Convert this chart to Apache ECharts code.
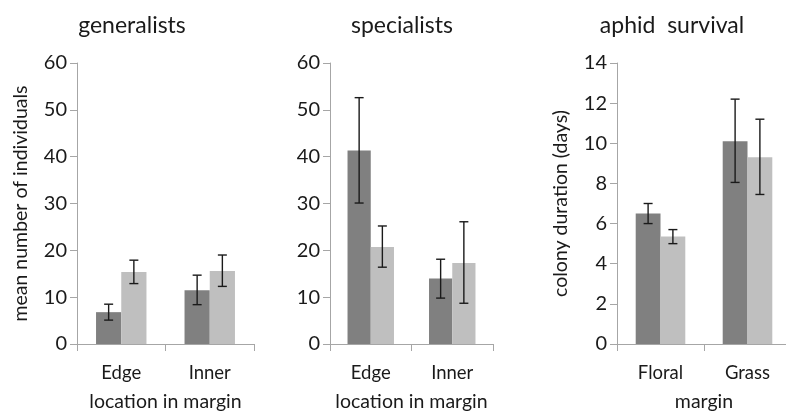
<!DOCTYPE html>
<html><head><meta charset="utf-8">
<script src="https://cdn.jsdelivr.net/npm/echarts@6/dist/echarts.min.js"></script>
<style>html,body{margin:0;padding:0;background:#fff}#c{width:786px;height:412px}</style>
</head><body><div id="c"></div>
<script>
// ---- data ----
var titles = ['generalists', 'specialists', 'aphid  survival'];
var catsLocation = ['Edge', 'Inner'];
var catsMargin = ['Floral', 'Grass'];
var yNames = ['mean number of individuals', '', 'colony duration (days)'];
var xNames = ['location in margin', 'location in margin', 'margin'];
var yMax = [60, 60, 14];
var yInterval = [10, 10, 2];

var genDark = [6.8, 11.5];
var genDarkLo = [5.1, 8.4];
var genDarkHi = [8.5, 14.7];
var genLight = [15.4, 15.6];
var genLightLo = [12.9, 12.3];
var genLightHi = [17.9, 19.0];

var speDark = [41.3, 14.0];
var speDarkLo = [30.1, 9.8];
var speDarkHi = [52.6, 18.1];
var speLight = [20.7, 17.3];
var speLightLo = [16.4, 8.7];
var speLightHi = [25.2, 26.1];

var aphDark = [6.5, 10.1];
var aphDarkLo = [6.0, 8.05];
var aphDarkHi = [7.0, 12.2];
var aphLight = [5.35, 9.3];
var aphLightLo = [5.0, 7.45];
var aphLightHi = [5.7, 11.2];

// ---- chart ----
var FONT = 'Lato';
var TXT = '#1a1a1a';
var DARK = '#808080', LIGHT = '#bfbfbf';
var GAP = 0.43;
var grids = [
  {left: 77, top: 63, width: 177, height: 281, outerBoundsMode: 'none', containLabel: false},
  {left: 330, top: 63, width: 163, height: 281, outerBoundsMode: 'none', containLabel: false},
  {left: 617, top: 63, width: 174, height: 281, outerBoundsMode: 'none', containLabel: false}
];
var cats = [catsLocation, catsLocation, catsMargin];
var panels = [
  [genDark, genDarkLo, genDarkHi, genLight, genLightLo, genLightHi],
  [speDark, speDarkLo, speDarkHi, speLight, speLightLo, speLightHi],
  [aphDark, aphDarkLo, aphDarkHi, aphLight, aphLightLo, aphLightHi]
];
var titleX = [127, 397, 667];

function errSeries(i, lo, hi, side) {
  var data = lo.map(function (v, k) { return [k, v, hi[k]]; });
  return {
    type: 'custom', xAxisIndex: i, yAxisIndex: i, z: 10,
    renderItem: function (params, api) {
      var band = api.size([1, 0])[0];
      var bw = band * (1 - GAP) / 2;
      var p0 = api.coord([api.value(0), api.value(1)]);
      var p1 = api.coord([api.value(0), api.value(2)]);
      var x = p0[0] + side * bw / 2;
      var c = 4.5;
      var st = {stroke: '#1a1a1a', lineWidth: 1.4};
      return {type: 'group', children: [
        {type: 'line', shape: {x1: x, y1: p0[1], x2: x, y2: p1[1]}, style: st},
        {type: 'line', shape: {x1: x - c, y1: p0[1], x2: x + c, y2: p0[1]}, style: st},
        {type: 'line', shape: {x1: x - c, y1: p1[1], x2: x + c, y2: p1[1]}, style: st}
      ]};
    },
    data: data
  };
}

var xAxis = [], yAxis = [], series = [], title = [];
for (var i = 0; i < 3; i++) {
  title.push({text: titles[i], left: titleX[i], top: 9, textAlign: 'center',
    textStyle: {fontFamily: FONT, fontSize: 23, fontWeight: 'normal', color: TXT}});
  xAxis.push({type: 'category', gridIndex: i, data: cats[i],
    name: xNames[i], nameLocation: 'middle', nameGap: 48,
    nameTextStyle: {fontFamily: FONT, fontSize: 19.5, color: TXT},
    axisLine: {lineStyle: {color: '#a6a6a6', width: 1}},
    axisTick: {show: true, length: 7, lineStyle: {color: '#a6a6a6'}},
    axisLabel: {fontFamily: FONT, fontSize: 18.5, color: TXT, margin: 20}});
  yAxis.push({type: 'value', gridIndex: i, min: 0, max: yMax[i], interval: yInterval[i],
    name: yNames[i], nameLocation: 'middle', nameGap: 46,
    nameTextStyle: {fontFamily: FONT, fontSize: 19.5, color: TXT},
    splitLine: {show: false},
    axisLine: {show: true, lineStyle: {color: '#a6a6a6', width: 1}},
    axisTick: {show: true, length: 7, lineStyle: {color: '#a6a6a6'}},
    axisLabel: {fontFamily: FONT, fontSize: 20, color: TXT, margin: 10}});
  var p = panels[i];
  series.push({type: 'bar', xAxisIndex: i, yAxisIndex: i, data: p[0],
    itemStyle: {color: DARK}, barGap: '0%', barCategoryGap: (GAP * 100) + '%'});
  series.push({type: 'bar', xAxisIndex: i, yAxisIndex: i, data: p[3],
    itemStyle: {color: LIGHT}, barGap: '0%', barCategoryGap: (GAP * 100) + '%'});
  series.push(errSeries(i, p[1], p[2], -1));
  series.push(errSeries(i, p[4], p[5], 1));
}

var chart = echarts.init(document.getElementById('c'));
chart.setOption({animation: false, backgroundColor: '#fff', title: title,
  grid: grids, xAxis: xAxis, yAxis: yAxis, series: series});
</script></body></html>
